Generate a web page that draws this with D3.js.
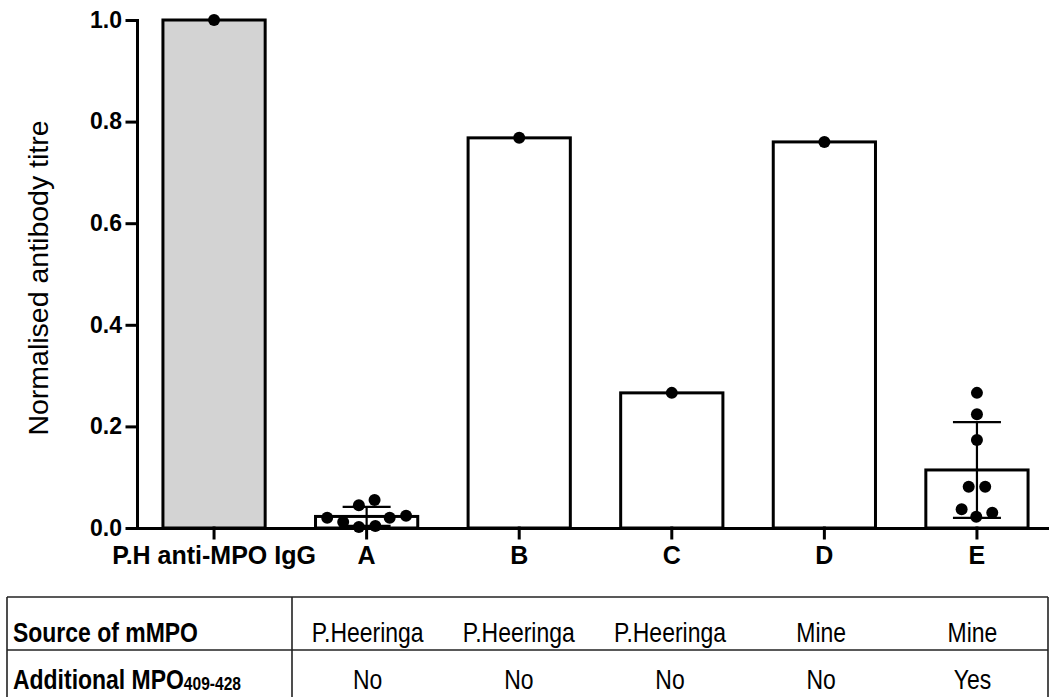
<!DOCTYPE html>
<html>
<head>
<meta charset="utf-8">
<script src="https://cdn.jsdelivr.net/npm/d3@7"></script>
<style>
  body { margin: 0; background: #fff; }
  svg { display: block; }
  .axis text { font-family: Arial, "Liberation Sans", sans-serif; font-weight: bold; fill: #000; }
  .tbl text { font-family: "Liberation Sans", Arial, sans-serif; fill: #000; }
</style>
</head>
<body>
<div id="chart"></div>
<script>
// values (normalised titre, one point per sample)
const categories = ['P.H anti-MPO IgG', 'A', 'B', 'C', 'D', 'E'];
const groupValues = [
  [1.0],
  [0.055, 0.045, 0.024, 0.020, 0.020, 0.012, 0.004, 0.002],
  [0.768],
  [0.266],
  [0.760],
  [0.266, 0.224, 0.173, 0.081, 0.081, 0.037, 0.030, 0.022]
];
const yTicks = [0, 0.2, 0.4, 0.6, 0.8, 1.0];

const tableColumns = ['A', 'B', 'C', 'D', 'E'];
const sourceRow = ['P.Heeringa', 'P.Heeringa', 'P.Heeringa', 'Mine', 'Mine'];
const additionalRow = ['No', 'No', 'No', 'No', 'Yes'];

const width = 1049;
const height = 697;
const controlFill = '#d3d3d3';
const dotR = 6;
const narrow = 0.82; // the table font in the original is a condensed face

const svg = d3.select('#chart')
  .append('svg')
  .attr('width', width)
  .attr('height', height);

const x = d3.scaleBand()
  .domain(categories)
  .range([137, 1054])
  .paddingInner(0.33)
  .paddingOuter(0.17);

const y = d3.scaleLinear()
  .domain([0, 1])
  .range([528, 20]);

// bars (mean of each group)
const groups = categories.map((c, i) => {
  const vals = groupValues[i];
  const mean = d3.mean(vals);
  const sd = vals.length > 1 ? d3.deviation(vals) : null;
  return { cat: c, vals, mean, sd };
});

svg.append('g')
  .selectAll('rect')
  .data(groups)
  .join('rect')
  .attr('x', d => x(d.cat))
  .attr('y', d => y(d.mean))
  .attr('width', x.bandwidth())
  .attr('height', d => y(0) - y(d.mean))
  .attr('fill', (d, i) => i === 0 ? controlFill : '#fff')
  .attr('stroke', '#000')
  .attr('stroke-width', 3);

// error bars, mean +/- SD
const errG = svg.append('g')
  .selectAll('g')
  .data(groups.filter(d => d.sd !== null))
  .join('g')
  .attr('stroke', '#000')
  .attr('stroke-width', 2.2);

const cx = d => x(d.cat) + x.bandwidth() / 2;
const capHalf = 24;

errG.append('line')
  .attr('x1', cx).attr('x2', cx)
  .attr('y1', d => y(Math.max(0, d.mean - d.sd)))
  .attr('y2', d => y(d.mean + d.sd));
errG.append('line')
  .attr('x1', d => cx(d) - capHalf).attr('x2', d => cx(d) + capHalf)
  .attr('y1', d => y(d.mean + d.sd)).attr('y2', d => y(d.mean + d.sd));
errG.append('line')
  .attr('x1', d => cx(d) - capHalf).attr('x2', d => cx(d) + capHalf)
  .attr('y1', d => y(Math.max(0, d.mean - d.sd))).attr('y2', d => y(Math.max(0, d.mean - d.sd)));

// simple beeswarm so overlapping points sit side by side,
// each cluster of touching points is then re-centred on the bar
function swarm(vals) {
  const minDist = 16.5;
  const placed = [];
  const order = vals.map((v, i) => i).sort((a, b) => vals[a] - vals[b]);
  const out = new Array(vals.length);
  order.forEach(i => {
    const py = y(vals[i]);
    let cands = [0];
    placed.forEach(p => {
      const dy = Math.abs(p.py - py);
      if (dy < minDist) {
        const dx = Math.sqrt(minDist * minDist - dy * dy);
        cands.push(p.dx + dx, p.dx - dx);
      }
    });
    cands.sort((a, b) => Math.abs(a) - Math.abs(b));
    const ok = cands.find(c => placed.every(p =>
      Math.hypot(p.dx - c, p.py - py) >= minDist - 0.01));
    placed.push({ dx: ok, py, i });
    out[i] = ok;
  });
  // split into clusters along y and centre each one
  let cluster = [placed[0]];
  const flush = () => {
    const ext = d3.extent(cluster, p => p.dx);
    const shift = (ext[0] + ext[1]) / 2;
    cluster.forEach(p => { out[p.i] = p.dx - shift; });
  };
  for (let k = 1; k < placed.length; k++) {
    if (Math.abs(placed[k].py - placed[k - 1].py) < minDist) {
      cluster.push(placed[k]);
    } else {
      flush();
      cluster = [placed[k]];
    }
  }
  flush();
  return out;
}

const points = [];
groups.forEach(g => {
  const offs = swarm(g.vals);
  g.vals.forEach((v, j) => points.push({ cat: g.cat, v, dx: offs[j] }));
});

svg.append('g')
  .selectAll('circle')
  .data(points)
  .join('circle')
  .attr('cx', d => x(d.cat) + x.bandwidth() / 2 + d.dx)
  .attr('cy', d => y(d.v))
  .attr('r', dotR)
  .attr('fill', '#000');

// axes
const yAxis = svg.append('g')
  .attr('class', 'axis')
  .attr('transform', 'translate(137,0)')
  .call(d3.axisLeft(y).tickValues(yTicks).tickFormat(d3.format('.1f')).tickSize(10).tickSizeOuter(0).tickPadding(5));
yAxis.selectAll('text').style('font-size', '23px');

const xAxis = svg.append('g')
  .attr('class', 'axis')
  .attr('transform', `translate(0,${y(0)})`)
  .call(d3.axisBottom(x).tickSize(10).tickSizeOuter(0));
xAxis.selectAll('text')
  .style('font-size', '25px')
  .attr('y', 36)
  .attr('dy', 0);

svg.selectAll('.axis path, .axis line')
  .attr('stroke', '#000')
  .attr('stroke-width', 3)
  .attr('stroke-linecap', 'square');

svg.append('text')
  .attr('transform', `translate(48,${(y(0) + y(1)) / 2 + 4}) rotate(-90)`)
  .attr('text-anchor', 'middle')
  .style('font-family', 'Arial, "Liberation Sans", sans-serif')
  .style('font-size', '28.5px')
  .text('Normalised antibody titre');

// condition table under the chart
const tbl = svg.append('g').attr('class', 'tbl');
const tLeft = 7, tRight = 1048, tDiv = 292;
const rowTop = [597, 650];
const baselines = [642, 689];
const tx = d3.scaleBand().domain(tableColumns).range([tDiv, tRight]);

tbl.selectAll('line.h')
  .data(rowTop)
  .join('line')
  .attr('x1', tLeft).attr('x2', tRight)
  .attr('y1', d => d).attr('y2', d => d);
tbl.selectAll('line.v')
  .data([tLeft, tDiv, tRight])
  .join('line')
  .attr('class', 'v')
  .attr('x1', d => d).attr('x2', d => d)
  .attr('y1', rowTop[0]).attr('y2', height);
tbl.selectAll('line')
  .attr('stroke', '#222')
  .attr('stroke-width', 1.6);

tbl.append('text')
  .attr('transform', `translate(13,${baselines[0]}) scale(${narrow},1)`)
  .style('font-size', '28px')
  .style('font-weight', 'bold')
  .text('Source of mMPO');

const addLabel = tbl.append('text')
  .attr('transform', `translate(13,${baselines[1]}) scale(${narrow},1)`)
  .style('font-size', '28px')
  .style('font-weight', 'bold');
addLabel.append('tspan').text('Additional MPO');
addLabel.append('tspan').style('font-size', '19px').attr('dy', 1).text('409-428');

[sourceRow, additionalRow].forEach((row, r) => {
  tbl.append('g')
    .selectAll('text')
    .data(row)
    .join('text')
    .attr('transform', (d, i) =>
      `translate(${tx(tableColumns[i]) + tx.bandwidth() / 2},${baselines[r]}) scale(${narrow},1)`)
    .attr('text-anchor', 'middle')
    .style('font-size', '28px')
    .text(d => d);
});
</script>
</body>
</html>
